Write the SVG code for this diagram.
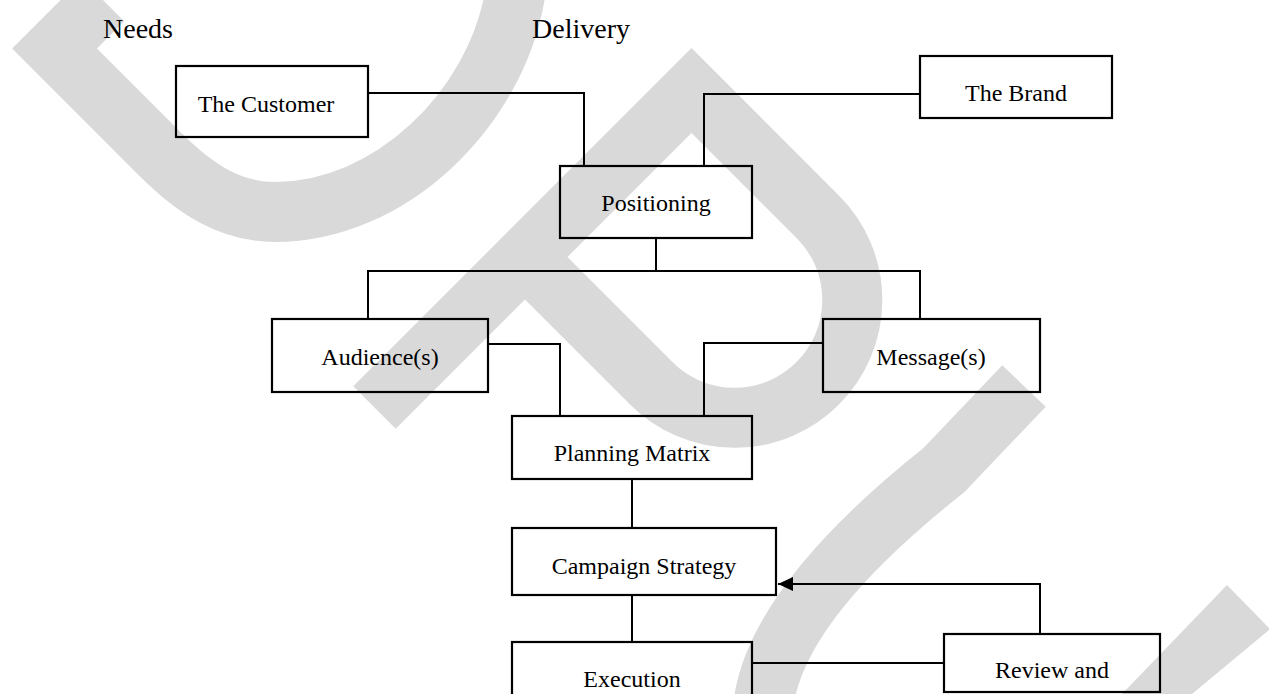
<svg xmlns="http://www.w3.org/2000/svg" width="1269" height="694" viewBox="0 0 1269 694">
  <style>
    .wm { fill: none; stroke: #d9d9d9; stroke-width: 60; stroke-linejoin: miter; stroke-linecap: butt; }
    .wmf { fill: #d9d9d9; stroke: none; }
    .box { fill: none; stroke: #000; stroke-width: 2.2; }
    .link { fill: none; stroke: #000; stroke-width: 2; }
    .lbl { font-family: "Liberation Serif", "Times New Roman", serif; font-size: 24px; fill: #000; text-anchor: middle; }
    .head { font-family: "Liberation Serif", "Times New Roman", serif; font-size: 28px; fill: #000; }
  </style>
  <defs>
    <marker id="arrow" viewBox="0 0 15 14" refX="15" refY="7" markerWidth="15" markerHeight="14" markerUnits="userSpaceOnUse" orient="auto">
      <path d="M0,0 L15,7 L0,14 Z" fill="#000"/>
    </marker>
  </defs>
  <rect width="1269" height="694" fill="#fff"/>

  <!-- background watermark strokes -->
  <g id="watermark">
    <path class="wm" d="M103,0 L54.5,48.5 L160,154 C195,189 230,212 275,212 C390,212 495,110 515,-5"/>
    <path class="wm" d="M374.5,407.5 L691.5,90.5 L818,217 A117.5,117.5 0 0 1 818,383 A117.5,117.5 0 0 1 651.5,383.5 L514,246"/>
    <path class="wm" d="M1024,386 L944,470 Q780,600 764,700"/>
    <polygon class="wmf" points="1122,694 1227,585 1269,628 1269,630 1192,694"/>
  </g>

  <!-- column headings -->
  <text class="head" x="103" y="37.5">Needs</text>
  <text class="head" x="532" y="37.5">Delivery</text>

  <!-- connectors -->
  <g id="connectors">
    <path class="link" d="M368,93 H584 V166"/>
    <path class="link" d="M920,94 H704 V166"/>
    <path class="link" d="M656,238 V271"/>
    <path class="link" d="M368,319 V271 H920 V319"/>
    <path class="link" d="M488,344 H560 V416"/>
    <path class="link" d="M823,343 H704 V416"/>
    <path class="link" d="M632,479 V528"/>
    <path class="link" d="M632,595 V642"/>
    <path class="link" d="M752,663 H944"/>
    <path class="link" d="M1040,634 V584 H778" marker-end="url(#arrow)"/>
  </g>

  <!-- nodes -->
  <g id="customer">
    <rect class="box" x="176" y="66" width="192" height="71"/>
    <text class="lbl" x="266" y="112">The Customer</text>
  </g>
  <g id="brand">
    <rect class="box" x="920" y="56" width="192" height="62"/>
    <text class="lbl" x="1016" y="101">The Brand</text>
  </g>
  <g id="positioning">
    <rect class="box" x="560" y="166" width="192" height="72"/>
    <text class="lbl" x="656" y="211">Positioning</text>
  </g>
  <g id="audiences">
    <rect class="box" x="272" y="319" width="216" height="73"/>
    <text class="lbl" x="380" y="365">Audience(s)</text>
  </g>
  <g id="messages">
    <rect class="box" x="823" y="319" width="217" height="73"/>
    <text class="lbl" x="931" y="365">Message(s)</text>
  </g>
  <g id="planning-matrix">
    <rect class="box" x="512" y="416" width="240" height="63"/>
    <text class="lbl" x="632" y="461">Planning Matrix</text>
  </g>
  <g id="campaign-strategy">
    <rect class="box" x="512" y="528" width="264" height="67"/>
    <text class="lbl" x="644" y="574">Campaign Strategy</text>
  </g>
  <g id="execution">
    <rect class="box" x="512" y="642" width="240" height="70"/>
    <text class="lbl" x="632" y="687">Execution</text>
  </g>
  <g id="review">
    <rect class="box" x="944" y="634" width="216" height="58"/>
    <text class="lbl" x="1052" y="678">Review and</text>
  </g>
</svg>
